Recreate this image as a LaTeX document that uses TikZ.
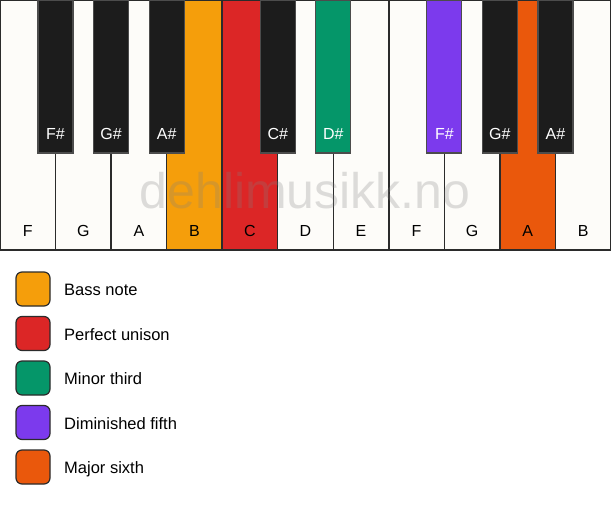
\documentclass[tikz,border=0pt]{standalone}
\usepackage{fontspec}
\setmainfont{Liberation Sans}
\definecolor{wkey}{HTML}{FDFCF9}
\definecolor{bkey}{HTML}{1C1C1C}
\definecolor{edge}{HTML}{2B2B2B}
\definecolor{bass}{HTML}{F59E0B}
\definecolor{unison}{HTML}{DC2626}
\definecolor{minthird}{HTML}{059669}
\definecolor{dimfifth}{HTML}{7C3AED}
\definecolor{majsixth}{HTML}{EA580C}
\begin{document}
\begin{tikzpicture}[x=1pt,y=-1pt,
  whitekey/.style={draw=edge,line width=1.4pt,rectangle,anchor=north west,minimum width=55.545pt,minimum height=250pt,inner sep=0pt,outer sep=0pt},
  blackkey/.style={draw=black!70,line width=1.2pt,rectangle,anchor=north,minimum width=35pt,minimum height=153pt,inner sep=0pt,outer sep=0pt},
  keylabel/.style={anchor=base,font=\fontsize{16}{19}\selectfont,inner sep=0pt},
  swatch/.style={draw=edge,line width=1.2pt,rounded corners=6pt,minimum size=34pt,inner sep=0pt},
  legtext/.style={anchor=base west,font=\fontsize{16.5}{20}\selectfont,inner sep=0pt,text=black}]
\useasboundingbox (0,0) rectangle (611,506);
\fill[white] (0,0) rectangle (611,506);
% white keys
\foreach \n/\c [count=\i from 0] in {F/wkey,G/wkey,A/wkey,B/bass,C/unison,D/wkey,E/wkey,F/wkey,G/wkey,A/majsixth,B/wkey}{
  \node[whitekey,fill=\c] (w\i) at ({\i*55.545},0) {};
  \node[keylabel] (wl\i) at ({\i*55.545+27.77},236.5) {\n};
}
% watermark
\node[anchor=base,inner sep=0pt,text=gray,text opacity=0.26,font=\fontsize{50}{60}\selectfont] (wm) at (305,208) {dehlimusikk.no};
% black keys
\foreach \n/\c/\k in {F\#/bkey/1,G\#/bkey/2,A\#/bkey/3,C\#/bkey/5,D\#/minthird/6,F\#/dimfifth/8,G\#/bkey/9,A\#/bkey/10}{
  \node[blackkey,fill=\c] (b\k) at ({\k*55.545},0) {};
  \node[keylabel,text=white] (bl\k) at ({\k*55.545},139) {\n};
}
% legend
\foreach \c/\t [count=\j from 0] in {bass/Bass note,unison/Perfect unison,minthird/Minor third,dimfifth/Diminished fifth,majsixth/Major sixth}{
  \node[swatch,fill=\c] (s\j) at (33,{289+\j*44.5}) {};
  \node[legtext] (t\j) at (64,{295.7+\j*44.5}) {\t};
}
\end{tikzpicture}
\end{document}
